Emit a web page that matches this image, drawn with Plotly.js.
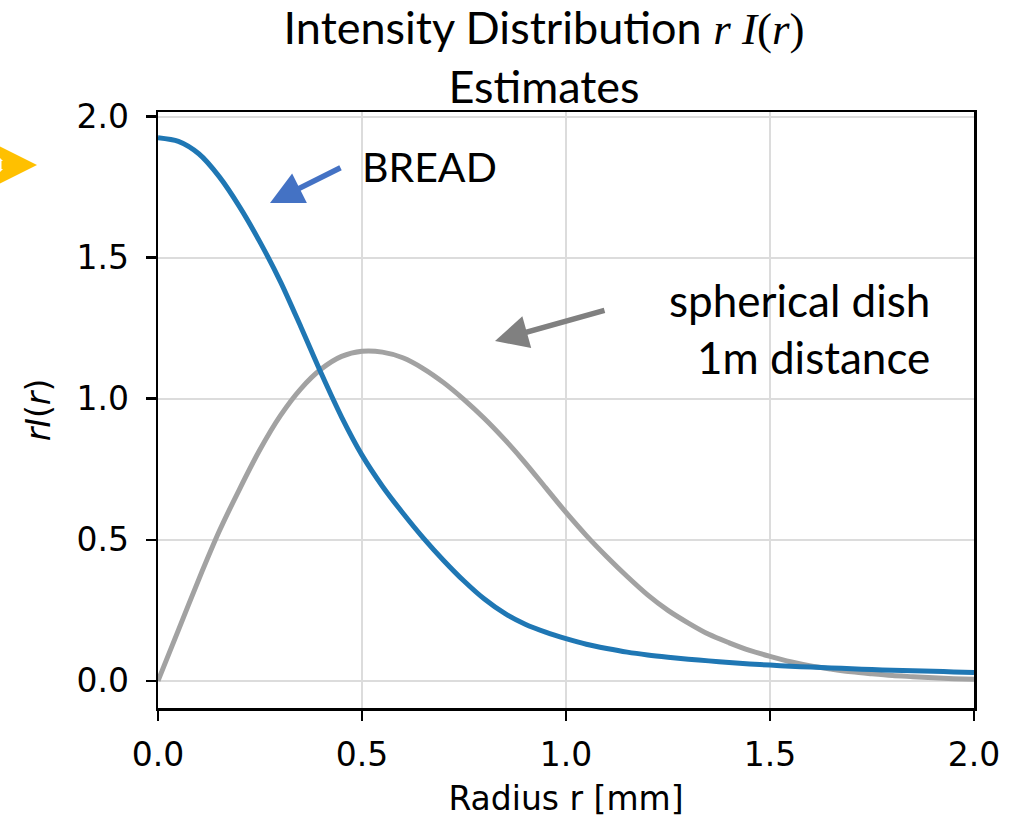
<!DOCTYPE html>
<html>
<head>
<meta charset="utf-8">
<script src="https://cdn.plot.ly/plotly-3.0.1.min.js"></script>
<style>
  html, body { margin: 0; padding: 0; background: #ffffff; }
  #chart { width: 1010px; height: 825px; }
</style>
</head>
<body>
<div id="chart"></div>
<script>
// ---- Data ----
const radiusBread = [0, 0.05, 0.1, 0.15, 0.2, 0.25, 0.3, 0.35, 0.4, 0.45, 0.5, 0.55, 0.6, 0.65, 0.7, 0.75, 0.8, 0.85, 0.9, 0.95, 1.0,
  1.05, 1.1, 1.15, 1.2, 1.25, 1.3, 1.35, 1.4, 1.45, 1.5, 1.55, 1.6, 1.65, 1.7, 1.75, 1.8, 1.85, 1.9, 1.95, 2.0];
const intensityBread = [1.925, 1.912, 1.868, 1.787, 1.68, 1.555, 1.415, 1.255, 1.09, 0.935, 0.80, 0.69, 0.595, 0.507, 0.427, 0.354, 0.29, 0.239, 0.201, 0.173, 0.15,
  0.13, 0.115, 0.102, 0.092, 0.084, 0.077, 0.071, 0.065, 0.06, 0.056, 0.052, 0.049, 0.046, 0.043, 0.04, 0.038, 0.036, 0.034, 0.032, 0.03];

const radiusDish = [0, 0.05, 0.1, 0.15, 0.2, 0.25, 0.3, 0.35, 0.4, 0.45, 0.5, 0.55, 0.6, 0.65, 0.7, 0.75, 0.8, 0.85, 0.9, 0.95, 1.0,
  1.05, 1.1, 1.15, 1.2, 1.25, 1.3, 1.35, 1.4, 1.45, 1.5, 1.55, 1.6, 1.65, 1.7, 1.75, 1.8, 1.85, 1.9, 1.95, 2.0];
const intensityDish = [0, 0.18, 0.36, 0.53, 0.68, 0.82, 0.94, 1.035, 1.105, 1.15, 1.168, 1.165, 1.145, 1.107, 1.057, 0.997, 0.93, 0.855, 0.773, 0.685, 0.597,
  0.515, 0.44, 0.37, 0.305, 0.25, 0.205, 0.165, 0.135, 0.108, 0.087, 0.068, 0.053, 0.042, 0.032, 0.025, 0.019, 0.015, 0.011, 0.008, 0.006];

const tickValues = [0, 0.5, 1.0, 1.5, 2.0];
const tickLabels = ["0.0", "0.5", "1.0", "1.5", "2.0"];

const titleText = "Intensity Distribution <span style=\"font-family:'Liberation Serif';\"><i>r I</i>(<i>r</i>)</span><br>Estimates";
const xTitle = "Radius r [mm]";
const yTitle = "<i>rI</i>(<i>r</i>)";
const breadLabel = "BREAD";
const dishLabel1 = "spherical dish";
const dishLabel2 = "1m distance";

// ---- Figure ----
const tickFont = { family: "DejaVu Sans", size: 33, color: "#000000" };
const titleFont = { family: "Lato", size: 45, color: "#000000" };
const noteFont = { family: "Lato", size: 44, color: "#000000" };
const breadFont = { family: "Lato", size: 41, color: "#000000" };

const traces = [
  {
    x: radiusDish, y: intensityDish, type: "scatter", mode: "lines",
    line: { color: "#a2a2a2", width: 5, shape: "spline", smoothing: 0.8 }, name: "spherical dish", hoverinfo: "skip"
  },
  {
    x: radiusBread, y: intensityBread, type: "scatter", mode: "lines",
    line: { color: "#1f77b4", width: 5, shape: "spline", smoothing: 0.8 }, name: "BREAD", hoverinfo: "skip"
  }
];

const px = (p) => (p - 158) / 816;
const py = (p) => (708 - p) / 596;

const layout = {
  width: 1010, height: 825,
  margin: { l: 158, r: 36, t: 112, b: 117 },
  paper_bgcolor: "#ffffff", plot_bgcolor: "#ffffff",
  showlegend: false,
  title: {
    text: titleText,
    font: titleFont,
    x: px(544), xref: "paper", xanchor: "center",
    y: 1 - 44 / 825, yref: "container", yanchor: "top"
  },
  xaxis: {
    range: [0, 2], tickvals: tickValues, ticktext: tickLabels,
    showgrid: true, gridcolor: "#dcdcdc", gridwidth: 2,
    zeroline: false, showline: true, linecolor: "#000000", linewidth: 2.5, mirror: true,
    ticks: "outside", ticklen: 10, tickwidth: 2.5, tickcolor: "#000000",
    tickfont: tickFont, ticklabelstandoff: 6,
    title: { text: xTitle, font: tickFont, standoff: 14 }
  },
  yaxis: {
    range: [-0.096, 2.016], tickvals: tickValues, ticktext: tickLabels,
    showgrid: true, gridcolor: "#dcdcdc", gridwidth: 2,
    zeroline: false, showline: true, linecolor: "#000000", linewidth: 2.5, mirror: true,
    ticks: "outside", ticklen: 10, tickwidth: 2.5, tickcolor: "#000000",
    tickfont: tickFont, ticklabelstandoff: 10,
    title: { text: yTitle, font: tickFont, standoff: 16 }
  },
  annotations: [
    { text: breadLabel, xref: "paper", yref: "paper", x: px(360), y: py(167),
      xanchor: "left", yanchor: "middle", showarrow: false, font: breadFont },
    { text: dishLabel1, xref: "paper", yref: "paper", x: px(932), y: py(300),
      xanchor: "right", yanchor: "middle", showarrow: false, font: noteFont },
    { text: dishLabel2, xref: "paper", yref: "paper", x: px(932), y: py(357),
      xanchor: "right", yanchor: "middle", showarrow: false, font: noteFont },
    // blue arrow pointing to BREAD curve
    { text: "", xref: "paper", yref: "paper", x: px(270), y: py(203), ax: 72, ay: -36,
      showarrow: true, arrowhead: 2, arrowsize: 1.2, arrowwidth: 5.5, arrowcolor: "#4472c4" },
    // grey arrow pointing to dish curve
    { text: "", xref: "paper", yref: "paper", x: px(495), y: py(341), ax: 111, ay: -31,
      showarrow: true, arrowhead: 2, arrowsize: 1.2, arrowwidth: 5.5, arrowcolor: "#808080" },
    // yellow arrow at left edge
    { text: "", xref: "paper", yref: "paper", x: px(37), y: py(165), ax: -80, ay: 0,
      showarrow: true, arrowhead: 3, arrowsize: 1.25, arrowwidth: 8, arrowcolor: "#ffc000" }
  ]
};

Plotly.newPlot("chart", traces, layout, { displayModeBar: false, staticPlot: true });
</script>
</body>
</html>
